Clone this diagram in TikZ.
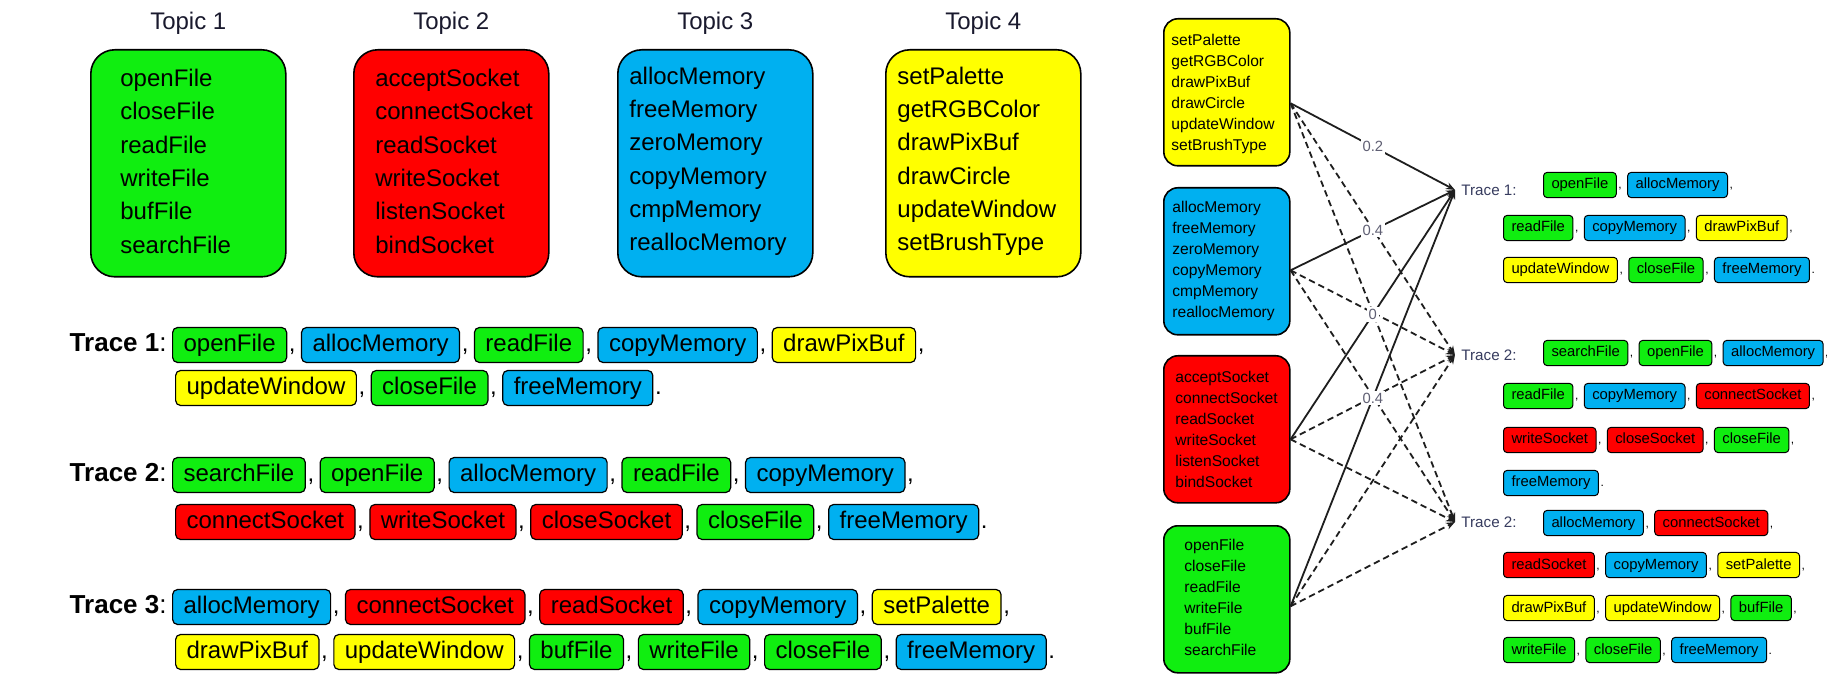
\documentclass[tikz,border=0pt]{standalone}
\usepackage{fontspec}
\setmainfont{Liberation Sans}
\usetikzlibrary{arrows.meta,calc}

\definecolor{fgreen}{RGB}{16,238,16}
\definecolor{fred}{RGB}{255,0,0}
\definecolor{fblue}{RGB}{0,176,240}
\definecolor{fyellow}{RGB}{255,255,0}
\definecolor{ink}{RGB}{25,25,45}
\definecolor{tracelbl}{RGB}{55,60,95}
\definecolor{edgelbl}{RGB}{95,95,115}
\definecolor{linegray}{RGB}{30,30,30}

% One row of call boxes: name prefix, x, y, style prefix (l/r), gap, list of colour/text/punctuation
\newcommand\callrow[6]{%
  \foreach \col/\txt/\pn [count=\i, remember=\i as \j (initially 0)] in {#6} {%
    \ifnum\i=1
      \node[#4call, fill=\col, anchor=west] (#1-\i) at (#2,#3) {\txt};
    \else
      \node[#4call, fill=\col, anchor=west] (#1-\i) at ($(#1-\j-p.east |- 0,#3)+(#5,0)$) {\txt};
    \fi
    \node[#4punct, anchor=base west] (#1-\i-p) at (#1-\i.base east) {\pn};
  }%
}

\begin{document}
\begin{tikzpicture}[x=0.5pt,y=-0.5pt,
  every node/.style={text=black},
  topicbox/.style={draw=black, line width=0.8pt, rounded corners=12pt,
    minimum width=97.5pt, minimum height=113.5pt, inner sep=0pt},
  topictext/.style={align=left, inner sep=0pt, font=\fontsize{12}{16.65}\selectfont},
  topictitle/.style={inner sep=0pt, font=\fontsize{12}{14}\selectfont, text=ink},
  ltrace/.style={inner sep=0pt, font=\fontsize{13}{15}\selectfont},
  lcall/.style={draw=black, line width=0.6pt, rounded corners=2.5pt,
    inner xsep=5.5pt, inner ysep=3pt, text height=9pt, text depth=2.5pt,
    font=\fontsize{12}{14}\selectfont},
  lpunct/.style={inner sep=0pt, xshift=0.6pt, font=\fontsize{12}{14}\selectfont},
  rcall/.style={draw=black, line width=0.5pt, rounded corners=1.8pt,
    inner xsep=4pt, inner ysep=2.7pt, text height=5.6pt, text depth=1.6pt,
    font=\fontsize{7.4}{9}\selectfont},
  rpunct/.style={inner sep=0pt, xshift=0.6pt, font=\fontsize{6}{7}\selectfont},
  rbox/.style={draw=black, line width=0.8pt, rounded corners=7pt,
    minimum width=63pt, minimum height=73.5pt, inner sep=0pt},
  rtext/.style={align=left, inner sep=0pt, font=\fontsize{7.8}{10.5}\selectfont},
  rtrace/.style={inner sep=0pt, font=\fontsize{7.6}{9}\selectfont, text=tracelbl},
  link/.style={line width=0.9pt, draw=linegray, -{Stealth[length=4.5pt,width=3.5pt]}},
  nolink/.style={link, dash pattern=on 3.2pt off 2pt},
  weight/.style={fill=white, inner sep=1pt, font=\fontsize{7.4}{8}\selectfont, text=edgelbl},
]
\fill[white] (0,0) rectangle (1827,679);
\useasboundingbox (0,0) rectangle (1827,679);

% ---------- topics ----------
\node[topicbox, fill=fgreen,  anchor=north west] (tb1) at (90,49)  {};
\node[topicbox, fill=fred,    anchor=north west] (tb2) at (353,49) {};
\node[topicbox, fill=fblue,   anchor=north west] (tb3) at (617,49) {};
\node[topicbox, fill=fyellow, anchor=north west] (tb4) at (885,49) {};

\node[topictitle] (h1) at (tb1.north |- 0,23) {Topic 1};
\node[topictitle] (h2) at (tb2.north |- 0,23) {Topic 2};
\node[topictitle] (h3) at (tb3.north |- 0,23) {Topic 3};
\node[topictitle] (h4) at (tb4.north |- 0,23) {Topic 4};

\node[topictext, anchor=west] (tt1) at ($(tb1.west)+(30,-2)$)
  {openFile\\closeFile\\readFile\\writeFile\\bufFile\\searchFile};
\node[topictext, anchor=west] (tt2) at ($(tb2.west)+(22,-2)$)
  {acceptSocket\\connectSocket\\readSocket\\writeSocket\\listenSocket\\bindSocket};
\node[topictext, anchor=west] (tt3) at ($(tb3.west)+(12,-2)$)
  {allocMemory\\freeMemory\\zeroMemory\\copyMemory\\cmpMemory\\reallocMemory};
\node[topictext, anchor=west] (tt4) at ($(tb4.west)+(12,-2)$)
  {setPalette\\getRGBColor\\drawPixBuf\\drawCircle\\updateWindow\\setBrushType};

% ---------- traces (left) ----------
\callrow{l1a}{172}{345}{l}{5}{fgreen/openFile/{,},fblue/allocMemory/{,},fgreen/readFile/{,},fblue/copyMemory/{,},fyellow/drawPixBuf/{,}}
\callrow{l1b}{175}{388}{l}{5}{fyellow/updateWindow/{,},fgreen/closeFile/{,},fblue/freeMemory/.}
\node[ltrace, anchor=base east] (lt1) at ([xshift=-2.5pt]l1a-1.base west) {\textbf{Trace 1}:};

\callrow{l2a}{172}{475}{l}{5}{fgreen/searchFile/{,},fgreen/openFile/{,},fblue/allocMemory/{,},fgreen/readFile/{,},fblue/copyMemory/{,}}
\callrow{l2b}{175}{522}{l}{5}{fred/connectSocket/{,},fred/writeSocket/{,},fred/closeSocket/{,},fgreen/closeFile/{,},fblue/freeMemory/.}
\node[ltrace, anchor=base east] (lt2) at ([xshift=-2.5pt]l2a-1.base west) {\textbf{Trace 2}:};

\callrow{l3a}{172}{607}{l}{5}{fblue/allocMemory/{,},fred/connectSocket/{,},fred/readSocket/{,},fblue/copyMemory/{,},fyellow/setPalette/{,}}
\callrow{l3b}{175}{652}{l}{5}{fyellow/drawPixBuf/{,},fyellow/updateWindow/{,},fgreen/bufFile/{,},fgreen/writeFile/{,},fgreen/closeFile/{,},fblue/freeMemory/.}
\node[ltrace, anchor=base east] (lt3) at ([xshift=-2.5pt]l3a-1.base west) {\textbf{Trace 3}:};

% ---------- topic model (right) ----------
\node[rbox, fill=fyellow, anchor=north west] (ry) at (1163,18)  {};
\node[rbox, fill=fblue,   anchor=north west] (rb) at (1163,187) {};
\node[rbox, fill=fred,    anchor=north west] (rr) at (1163,355) {};
\node[rbox, fill=fgreen,  anchor=north west] (rg) at (1163,525) {};

\node[rtext, anchor=west] (ryt) at ($(ry.west)+(8,2)$)
  {setPalette\\getRGBColor\\drawPixBuf\\drawCircle\\updateWindow\\setBrushType};
\node[rtext, anchor=west] (rbt) at ($(rb.west)+(9,0)$)
  {allocMemory\\freeMemory\\zeroMemory\\copyMemory\\cmpMemory\\reallocMemory};
\node[rtext, anchor=west] (rrt) at ($(rr.west)+(12,0)$)
  {acceptSocket\\connectSocket\\readSocket\\writeSocket\\listenSocket\\bindSocket};
\node[rtext, anchor=west] (rgt) at ($(rg.west)+(21,-2)$)
  {openFile\\closeFile\\readFile\\writeFile\\bufFile\\searchFile};

\coordinate (yo) at ($(ry.east)+(0,11)$);
\coordinate (bo) at ($(rb.east)+(0,9)$);
\coordinate (ro) at ($(rr.east)+(0,10)$);
\coordinate (go) at ($(rg.east)+(0,7)$);

\coordinate (p1) at (1455,190);
\coordinate (p2) at (1455,355);
\coordinate (p3) at (1455,522);

% dashed links (trace 2 and the third trace)
\draw[nolink] (yo) -- (p2);
\draw[nolink] (yo) -- (p3);
\draw[nolink] (bo) -- (p3);
\draw[nolink] (ro) -- (p3);
\draw[nolink] (go) -- (p2);
\draw[nolink] (go) -- (p3);
\draw[nolink] (bo) -- (p2);
\draw[nolink] (ro) -- (p2);
% solid links to trace 1 with their weights
\draw[link] (ro) -- node[weight] (w3) {0} (p1);
\draw[link] (go) -- node[weight] (w4) {0.4} (p1);
\draw[link] (yo) -- node[weight] (w1) {0.2} (p1);
\draw[link] (bo) -- node[weight] (w2) {0.4} (p1);

\node[rtrace, anchor=west] (rt1) at ($(p1)+(6,0)$) {Trace 1:};
\node[rtrace, anchor=west] (rt2) at ($(p2)+(6,0)$) {Trace 2:};
\node[rtrace, anchor=west] (rt3) at ($(p3)+(6,0)$) {Trace 2:};

\callrow{r1a}{1543}{185}{r}{5}{fgreen/openFile/{,},fblue/allocMemory/{,}}
\callrow{r1b}{1503}{228}{r}{5}{fgreen/readFile/{,},fblue/copyMemory/{,},fyellow/drawPixBuf/{,}}
\callrow{r1c}{1503}{270}{r}{5}{fyellow/updateWindow/{,},fgreen/closeFile/{,},fblue/freeMemory/.}

\callrow{r2a}{1543}{353}{r}{5}{fgreen/searchFile/{,},fgreen/openFile/{,},fblue/allocMemory/{,}}
\callrow{r2b}{1503}{396}{r}{5}{fgreen/readFile/{,},fblue/copyMemory/{,},fred/connectSocket/{,}}
\callrow{r2c}{1503}{440}{r}{5}{fred/writeSocket/{,},fred/closeSocket/{,},fgreen/closeFile/{,}}
\callrow{r2d}{1503}{483}{r}{5}{fblue/freeMemory/.}

\callrow{r3a}{1543}{523}{r}{5}{fblue/allocMemory/{,},fred/connectSocket/{,}}
\callrow{r3b}{1503}{565}{r}{5}{fred/readSocket/{,},fblue/copyMemory/{,},fyellow/setPalette/{,}}
\callrow{r3c}{1503}{608}{r}{5}{fyellow/drawPixBuf/{,},fyellow/updateWindow/{,},fgreen/bufFile/{,}}
\callrow{r3d}{1503}{650}{r}{5}{fgreen/writeFile/{,},fgreen/closeFile/{,},fblue/freeMemory/.}
\end{tikzpicture}
\end{document}
